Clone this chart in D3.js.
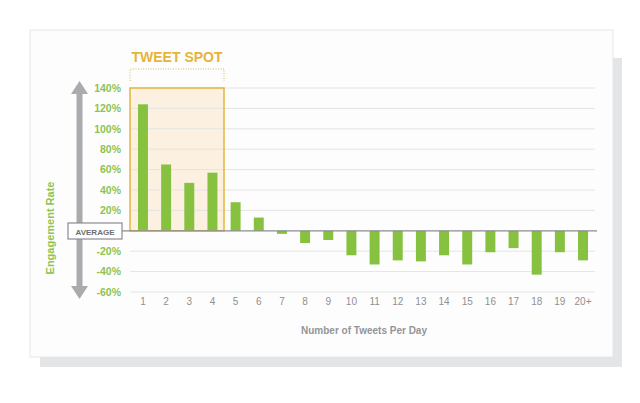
<!DOCTYPE html>
<html><head><meta charset="utf-8">
<script src="https://cdn.jsdelivr.net/npm/d3@7/dist/d3.min.js"></script>
<style>body{margin:0;background:#fff;}svg{display:block;font-family:"Helvetica Neue",Arial,"Liberation Sans",sans-serif;}</style>
</head><body><svg id="c" width="640" height="403"></svg>
<script>
const categories = ["1","2","3","4","5","6","7","8","9","10","11","12","13","14","15","16","17","18","19","20+"];
const values = [124, 65, 47, 57, 28, 13, -3, -12, -9, -24, -33, -29, -30, -24, -33, -21, -17, -43, -21, -29];
const yTicks = [140, 120, 100, 80, 60, 40, 20, 0, -20, -40, -60];
const tweetSpot = ["1","2","3","4"];

const svg = d3.select("#c");
const green = "#86c13f", labelGreen = "#8dc451", grey = "#a9abae", gold = "#e6b43a";

// card & shadow
svg.append("rect").attr("x",40).attr("y",58).attr("width",582).attr("height",309).attr("fill","#e3e5e6");
svg.append("rect").attr("x",30).attr("y",30).attr("width",583).attr("height",327).attr("fill","#fdfdfd").attr("stroke","#e6e7e8");

const x = d3.scaleBand().domain(categories).range([131.5,594.5]).paddingInner(0.57).paddingOuter(0.28);
const y = d3.scaleLinear().domain([-60,140]).range([292,88]);

// tweet spot box
const bx0 = 130, bx1 = 224;
svg.append("rect").attr("x",bx0).attr("y",y(140)).attr("width",bx1-bx0).attr("height",y(0)-y(140))
  .attr("fill","#fcf1e0").attr("stroke","none");

// gridlines
svg.append("g").selectAll("line").data(yTicks.filter(d=>d!==0)).join("line")
  .attr("x1",130).attr("x2",595).attr("y1",d=>y(d)).attr("y2",d=>y(d))
  .attr("stroke","#e3e4e5").attr("stroke-width",1);

// bars
svg.append("g").selectAll("rect").data(values).join("rect")
  .attr("x",(d,i)=>x(categories[i])).attr("width",x.bandwidth())
  .attr("y",d=>y(Math.max(0,d))).attr("height",d=>Math.abs(y(d)-y(0)))
  .attr("fill",green);

// tweet spot border
svg.append("rect").attr("x",bx0).attr("y",y(140)).attr("width",bx1-bx0).attr("height",y(0)-y(140))
  .attr("fill","none").attr("stroke",gold).attr("stroke-width",1.5);
// dotted bracket
svg.append("path").attr("d",`M${bx0},81V69H${bx1}V81`).attr("fill","none")
  .attr("stroke","#d9b86a").attr("stroke-width",1).attr("stroke-dasharray","1,1.5");
svg.append("text").attr("x",(bx0+bx1)/2).attr("y",62).attr("text-anchor","middle")
  .attr("fill",gold).attr("font-size",14).attr("font-weight","bold").text("TWEET SPOT");

// zero line
svg.append("line").attr("x1",122).attr("x2",597).attr("y1",y(0)).attr("y2",y(0)).attr("stroke","#8a8c8e").attr("stroke-width",1.2);

// y tick labels
const yAxis = d3.axisLeft(y).tickValues(yTicks.filter(d=>d!==0)).tickFormat(d=>d+"%").tickSize(0).tickPadding(0);
const ya = svg.append("g").attr("transform","translate(121,0)").call(yAxis);
ya.select(".domain").remove();
ya.selectAll("text").attr("fill",labelGreen).attr("font-size",10.5).attr("font-weight","bold").style("font-family","inherit");

// x tick labels
const xAxis = d3.axisBottom(x).tickSize(0).tickPadding(0);
const xa = svg.append("g").attr("transform","translate(0,298)").call(xAxis);
xa.select(".domain").remove();
xa.selectAll("text").attr("fill","#8e9093").attr("font-size",10).style("font-family","inherit");

svg.append("text").attr("x",364).attr("y",334).attr("text-anchor","middle").attr("fill","#939598")
  .attr("font-size",10).attr("font-weight","bold").text("Number of Tweets Per Day");

// grey double arrow
svg.append("rect").attr("x",76.5).attr("y",92).attr("width",6).attr("height",196).attr("fill",grey);
svg.append("path").attr("d","M79.5,81L88,94H71Z").attr("fill",grey);
svg.append("path").attr("d","M79.5,299L88,286H71Z").attr("fill",grey);

// AVERAGE box
svg.append("rect").attr("x",68).attr("y",223).attr("width",54).attr("height",16).attr("fill","#fff").attr("stroke","#8a8c8e").attr("stroke-width",1.2);
svg.append("text").attr("x",95).attr("y",234.5).attr("text-anchor","middle").attr("fill","#6d6e71")
  .attr("font-size",8).attr("font-weight","bold").text("AVERAGE");

// y title
svg.append("text").attr("transform","translate(54,228) rotate(-90)").attr("text-anchor","middle")
  .attr("fill",labelGreen).attr("font-size",11).attr("font-weight","bold").text("Engagement Rate");
</script></body></html>
